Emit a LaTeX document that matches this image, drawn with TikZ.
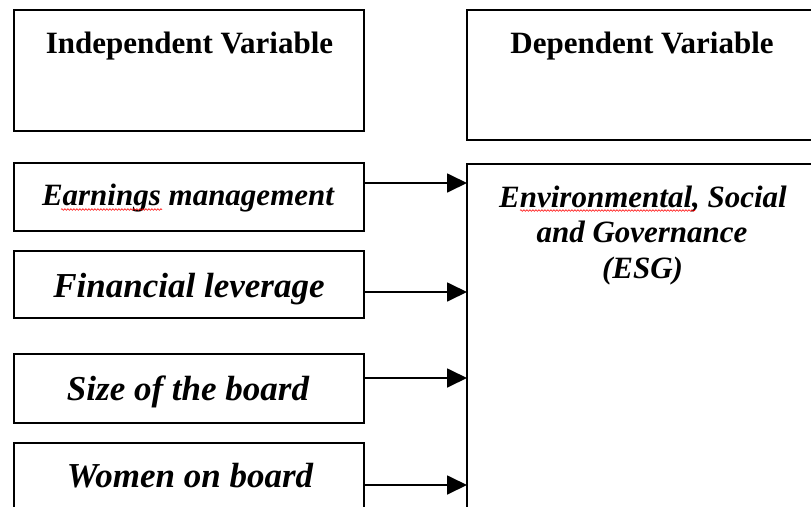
\documentclass[tikz,border=0pt]{standalone}
\usepackage{fontspec}
\setmainfont{Liberation Serif}
\usetikzlibrary{arrows.meta,decorations.pathmorphing}
\begin{document}
\begin{tikzpicture}[x=1pt,y=-1pt,
  box/.style={draw=black, line width=1.8pt, rectangle, outer sep=0pt, inner sep=0pt, anchor=north west, minimum width=350pt},
  headtxt/.style={anchor=base, font=\bfseries\fontsize{31}{36}\selectfont},
  vartxt/.style={anchor=base, font=\bfseries\itshape\fontsize{35}{40}\selectfont},
  vartxtsm/.style={anchor=base, font=\bfseries\itshape\fontsize{31}{36}\selectfont},
  arr/.style={draw=black, line width=1.8pt, -{Triangle[length=20pt,width=19pt]}},
  squiggle/.style={draw=red, line width=0.6pt, decorate, decoration={snake, amplitude=0.8pt, segment length=3pt}}]
\useasboundingbox (0,0) rectangle (811,506);
\clip (0,0) rectangle (811,506);
\fill[white] (0,0) rectangle (811,506);

% header boxes
\node[box, minimum height=121pt] (ind) at (14,10) {};
\node[headtxt] (indt) at (189.5,53) {Independent Variable};
\node[box, minimum width=351pt, minimum height=130pt] (dep) at (467,10) {};
\node[headtxt] (dept) at (642,53) {Dependent Variable};

% independent variables
\node[box, minimum height=68pt] (em) at (14,163) {};
\node[vartxtsm] (emt) at (188,205) {Earnings management};
\node[box, minimum height=67pt] (fl) at (14,251) {};
\node[vartxt] (flt) at (189,297) {Financial leverage};
\node[box, minimum height=69pt] (sb) at (14,354) {};
\node[vartxt] (sbt) at (188,400) {Size of the board};
\node[box, minimum height=100pt] (wb) at (14,443) {};
\node[vartxt] (wbt) at (190,487) {Women on board};

% dependent variable
\node[box, minimum width=351pt, minimum height=400pt] (esg) at (467,164) {};
\node[vartxtsm] (esg1) at (643,207) {Environmental, Social};
\node[vartxtsm] (esg2) at (642,242) {and Governance};
\node[vartxtsm] (esg3) at (642.5,278) {(ESG)};

% spell-check underlines
\draw[squiggle] (61,209.5) -- (162,209.5);
\draw[squiggle] (520,210.5) -- (695,210.5);

% arrows
\draw[arr] ([yshift=-20pt]em.north east) -- ([yshift=-20pt]em.north east -| esg.west);
\draw[arr] ([yshift=-41pt]fl.north east) -- ([yshift=-41pt]fl.north east -| esg.west);
\draw[arr] ([yshift=-24pt]sb.north east) -- ([yshift=-24pt]sb.north east -| esg.west);
\draw[arr] ([yshift=-42pt]wb.north east) -- ([yshift=-42pt]wb.north east -| esg.west);
\end{tikzpicture}
\end{document}
